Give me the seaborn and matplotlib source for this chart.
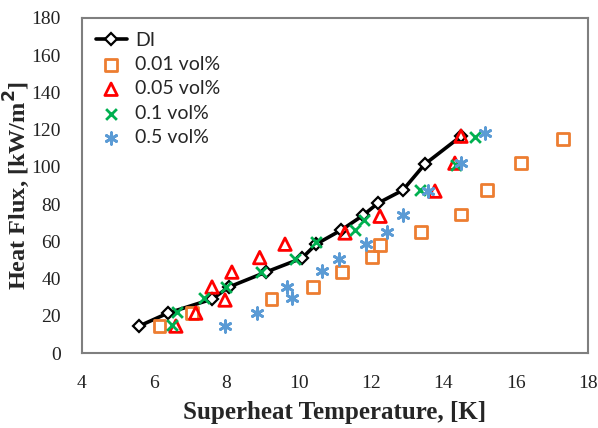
import matplotlib
matplotlib.use("Agg")
import matplotlib.pyplot as plt
import seaborn as sns
import pandas as pd

# Superheat temperature [K] and heat flux [kW/m2] for each fluid
di_x = [5.58, 6.38, 7.60, 8.07, 9.09, 10.09, 10.48, 11.17, 11.78, 12.19, 12.88, 13.49, 14.49]
di_y = [14.5, 21.5, 29.0, 35.5, 43.5, 51.0, 58.5, 66.0, 74.0, 80.5, 87.5, 101.5, 116.5]

c001_x = [6.15, 7.05, 9.25, 10.40, 11.20, 12.02, 12.25, 13.38, 14.49, 15.21, 16.15, 17.31]
c001_y = [14.5, 21.5, 29.0, 35.5, 43.5, 51.5, 58.0, 65.0, 74.5, 87.5, 102.0, 115.0]

c005_x = [6.60, 7.15, 7.60, 7.96, 8.15, 8.92, 9.62, 11.28, 12.25, 13.77, 14.32, 14.49]
c005_y = [14.5, 21.5, 35.5, 28.5, 43.5, 51.3, 58.5, 64.5, 73.5, 87.0, 102.0, 116.5]

c01_x = [6.49, 6.63, 7.38, 7.98, 8.95, 9.90, 10.48, 11.57, 11.80, 13.35, 14.35, 14.87]
c01_y = [15.0, 22.0, 29.5, 35.5, 43.5, 50.8, 59.8, 66.0, 71.5, 87.6, 101.0, 116.0]

c05_x = [7.97, 8.84, 9.81, 9.67, 10.65, 11.12, 11.85, 12.44, 12.88, 13.57, 14.49, 15.15]
c05_y = [14.5, 21.5, 29.5, 35.5, 44.0, 50.8, 58.8, 65.0, 74.0, 86.8, 102.0, 118.0]

labels = ["DI", "0.01 vol%", "0.05 vol%", "0.1 vol%", "0.5 vol%"]
x_ticks = [4, 6, 8, 10, 12, 14, 16, 18]
y_ticks = [0, 20, 40, 60, 80, 100, 120, 140, 160, 180]

sns.set_theme(style="white")
plt.rcParams["font.family"] = ["Liberation Serif", "DejaVu Serif"]

fig = plt.figure(figsize=(5.98, 4.28), dpi=100)
ax = fig.add_axes([0.137, 0.175, 0.846, 0.783])

di = pd.DataFrame({"T": di_x, "q": di_y})
sns.lineplot(data=di, x="T", y="q", ax=ax, sort=False, color="black", lw=2.6,
             marker="D", markersize=6.5, markerfacecolor="white",
             markeredgecolor="black", markeredgewidth=1.6, label=labels[0], zorder=3)

series = [
    (c001_x, c001_y, labels[1], "s", "#ED7D31", 70, True),
    (c005_x, c005_y, labels[2], "^", "#FF0000", 80, True),
    (c01_x, c01_y, labels[3], "x", "#00B050", 60, False),
    (c05_x, c05_y, labels[4], (6, 2, 0), "#5B9BD5", 70, False),
]
for xs, ys, lab, mk, col, sz, hollow in series:
    df = pd.DataFrame({"T": xs, "q": ys})
    if hollow:
        sns.scatterplot(data=df, x="T", y="q", ax=ax, marker=mk, s=sz,
                        facecolor="none", edgecolor=col, linewidth=2.0,
                        label=lab, zorder=4)
    else:
        sns.scatterplot(data=df, x="T", y="q", ax=ax, marker=mk, s=sz,
                        color=col, linewidth=2.0, label=lab, zorder=4)

ax.set_xlim(4, 18)
ax.set_ylim(0, 180)
ax.set_xticks(x_ticks)
ax.set_yticks(y_ticks)
ax.tick_params(axis="both", length=0, labelsize=14, colors="#222222")
ax.tick_params(axis="x", pad=16)
ax.tick_params(axis="y", pad=15)
for sp in ax.spines.values():
    sp.set_color("#7f7f7f")
    sp.set_linewidth(1.5)

ax.set_xlabel("Superheat Temperature, [K]", fontsize=18, fontweight="bold", labelpad=6)
ax.set_ylabel("Heat Flux, [kW/m$^\\mathbf{2}$]", fontsize=17.5, fontweight="bold", labelpad=0)

leg = ax.legend(loc="upper left", frameon=False, prop={"family": "Lato", "size": 14},
                handlelength=1.6, handletextpad=0.45, labelspacing=0.38,
                borderaxespad=0.3, bbox_to_anchor=(0.0, 1.0))

fig.savefig("out.png", dpi=100)
